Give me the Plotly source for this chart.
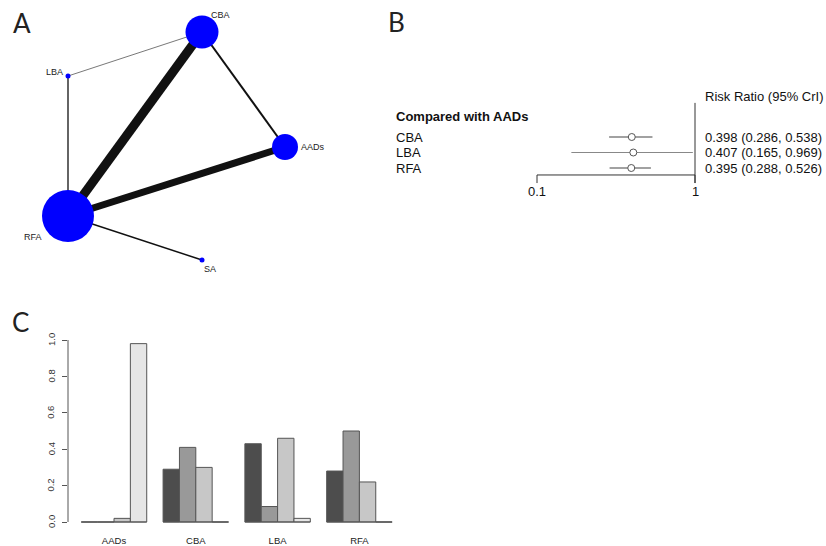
import math
import plotly.graph_objects as go

W, H = 826, 546

# ---------------- data ----------------
# Panel A: network
nodes = ["CBA", "LBA", "AADs", "RFA", "SA"]
node_x = [202, 68, 285, 68, 202]
node_y = [32, 76, 147, 216, 260]
node_size = [33, 5, 26, 52, 5]
edge_from = ["RFA", "RFA", "CBA", "LBA", "LBA", "RFA"]
edge_to = ["CBA", "AADs", "AADs", "CBA", "RFA", "SA"]
edge_width = [9, 7, 2, 0.8, 1.3, 1.5]

# Panel B: forest plot
fp_labels = ["CBA", "LBA", "RFA"]
rr = [0.398, 0.407, 0.395]
rr_lo = [0.286, 0.165, 0.288]
rr_hi = [0.538, 0.969, 0.526]
fp_ticks = [0.1, 1]

# Panel C: rank probabilities
rank_cats = ["AADs", "CBA", "LBA", "RFA"]
rank1 = [0.0, 0.29, 0.43, 0.28]
rank2 = [0.0, 0.41, 0.085, 0.50]
rank3 = [0.02, 0.30, 0.46, 0.22]
rank4 = [0.98, 0.0, 0.02, 0.0]
rank_ticks = [0.0, 0.2, 0.4, 0.6, 0.8, 1.0]

# ---------------- helpers ----------------
def px(x):
    return x / W


def py(y):
    return 1 - y / H


FONT = "Liberation Sans, Arial, sans-serif"
FB = 13
fig = go.Figure()
annotations = []
shapes = []

# ---------------- Panel A ----------------
idx = {n: i for i, n in enumerate(nodes)}
for a, b, w in zip(edge_from, edge_to, edge_width):
    fig.add_trace(go.Scatter(
        x=[node_x[idx[a]], node_x[idx[b]]], y=[node_y[idx[a]], node_y[idx[b]]],
        mode="lines", line=dict(color="#111" if w > 0.9 else "#555", width=w),
        xaxis="x", yaxis="y", showlegend=False, hoverinfo="skip"))
fig.add_trace(go.Scatter(
    x=node_x, y=node_y, mode="markers",
    marker=dict(size=node_size, color="#0000FF", opacity=1, line=dict(width=0)),
    xaxis="x", yaxis="y", showlegend=False, text=nodes))
label_shift = {"CBA": (18, 17), "LBA": (-14, 4), "AADs": (28, 0),
               "RFA": (-35, -21), "SA": (8, -9)}
for n in nodes:
    dx, dy = label_shift[n]
    annotations.append(dict(
        x=node_x[idx[n]], y=node_y[idx[n]], xref="x", yref="y",
        xanchor="center", yanchor="middle",
        text=n, showarrow=False, xshift=dx, yshift=dy,
        font=dict(family=FONT, size=9, color="#222")))

# ---------------- Panel B ----------------
lo_log = (380 - 537) / 158 - 1
hi_log = (826 - 537) / 158 - 1
for i, (lab, m, lo, hi) in enumerate(zip(fp_labels, rr, rr_lo, rr_hi)):
    col = "#888888" if lab == "LBA" else "#444444"
    fig.add_trace(go.Scatter(
        x=[lo, hi], y=[i, i], mode="lines",
        line=dict(color=col, width=1.2),
        xaxis="x2", yaxis="y2", showlegend=False, hoverinfo="skip"))
    annotations.append(dict(
        x=px(394), y=i, xref="paper", yref="y2", text=lab, showarrow=False,
        xanchor="left", yanchor="middle", font=dict(family=FONT, size=FB, color="#111")))
    annotations.append(dict(
        x=px(703), y=i, xref="paper", yref="y2",
        text=f"{m:.3f} ({lo:.3f}, {hi:.3f})", showarrow=False,
        xanchor="left", yanchor="middle", font=dict(family=FONT, size=FB, color="#111")))
fig.add_trace(go.Scatter(
    x=rr, y=list(range(len(rr))), mode="markers",
    marker=dict(symbol="circle", size=7, color="white", opacity=1,
                line=dict(color="#555555", width=1)),
    xaxis="x2", yaxis="y2", showlegend=False))
annotations.append(dict(
    x=px(394), y=-1.3, xref="paper", yref="y2", text="<b>Compared with AADs</b>",
    showarrow=False, xanchor="left", yanchor="middle",
    font=dict(family=FONT, size=FB, color="#111")))
annotations.append(dict(
    x=px(703), y=-2.6, xref="paper", yref="y2", text="Risk Ratio (95% CrI)",
    showarrow=False, xanchor="left", yanchor="middle",
    font=dict(family=FONT, size=FB, color="#111")))
# shapes on a log axis take data values
shapes.append(dict(type="line", xref="x2", yref="y2", x0=1, x1=1,
                   y0=-2.2, y1=2.97, line=dict(color="#333", width=1)))
shapes.append(dict(type="line", xref="x2", yref="y2", x0=fp_ticks[0],
                   x1=fp_ticks[-1], y0=2.45, y1=2.45,
                   line=dict(color="#333", width=1)))
for t in fp_ticks:
    shapes.append(dict(type="line", xref="x2", yref="y2", x0=t, x1=t,
                       y0=2.45, y1=2.97, line=dict(color="#333", width=1)))
    annotations.append(dict(
        x=math.log10(t), y=3.5, xref="x2", yref="y2", text=f"{t:g}", showarrow=False,
        xanchor="center", yanchor="middle",
        font=dict(family=FONT, size=FB, color="#111")))

# ---------------- Panel C ----------------
gray_cols = ["#4D4D4D", "#999999", "#C7C7C7", "#E6E6E6"]
for vals, col in zip([rank1, rank2, rank3, rank4], gray_cols):
    fig.add_trace(go.Bar(
        x=rank_cats, y=vals, marker=dict(color=col, line=dict(color="#555555", width=1)),
        xaxis="x3", yaxis="y3", showlegend=False))
for i in range(len(rank_cats)):
    shapes.append(dict(type="line", xref="x3", yref="y3", x0=i - 0.4, x1=i + 0.4,
                       y0=0, y1=0, line=dict(color="#555555", width=1)))
shapes.append(dict(type="line", xref="paper", yref="y3", x0=px(68), x1=px(68),
                   y0=rank_ticks[0], y1=rank_ticks[-1], line=dict(color="#555555", width=1)))
# rotated y tick labels (R style, reading upward)
for v in rank_ticks:
    annotations.append(dict(
        x=px(51), y=v, xref="paper", yref="y3", text=f"{v:.1f}", showarrow=False,
        textangle=-90, xanchor="center", yanchor="middle",
        font=dict(family=FONT, size=9.5, color="#333")))

# panel letters
for letter, lx, ly in [("A", 22, 23), ("B", 396, 22), ("C", 20, 322)]:
    annotations.append(dict(
        x=px(lx), y=py(ly), xref="paper", yref="paper", text=letter, showarrow=False,
        xanchor="center", yanchor="middle",
        font=dict(family="Lato, Open Sans, sans-serif", size=26, color="#222")))

y0c = -0.012
fig.update_layout(
    width=W, height=H, margin=dict(l=0, r=0, t=0, b=0, autoexpand=False),
    paper_bgcolor="white", plot_bgcolor="white",
    xaxis=dict(domain=[0, px(340)], range=[0, 340], visible=False,
               anchor="y", automargin=False),
    yaxis=dict(domain=[py(290), 1], range=[290, 0], visible=False,
               anchor="x", automargin=False),
    xaxis2=dict(domain=[px(380), 1], type="log", range=[lo_log, hi_log], visible=False,
                anchor="y2", automargin=False),
    yaxis2=dict(domain=[py(200), py(70)],
                range=[(200 - 137) / 15.5, (70 - 137) / 15.5], visible=False,
                anchor="x2", automargin=False),
    xaxis3=dict(domain=[px(68), px(400)], anchor="y3", automargin=False,
                range=[(68 - 114) / 81.8, (400 - 114) / 81.8],
                showline=False, showgrid=False, zeroline=False, ticks="",
                ticklabelstandoff=9,
                tickfont=dict(family=FONT, size=9.5, color="#222")),
    yaxis3=dict(domain=[py(522 - y0c * 182), py(340)], range=[y0c, 1.0],
                anchor="x3", automargin=False,
                showline=False, showgrid=False, zeroline=False,
                ticks="outside", ticklen=5, tickcolor="#555555",
                tickvals=rank_ticks, showticklabels=False),
    barmode="group", bargap=0.2, bargroupgap=0,
    annotations=annotations, shapes=shapes,
)

fig.write_html("out.html", config={"displayModeBar": False},
               post_script="document.body.style.margin='0';document.body.style.overflow='hidden';")
